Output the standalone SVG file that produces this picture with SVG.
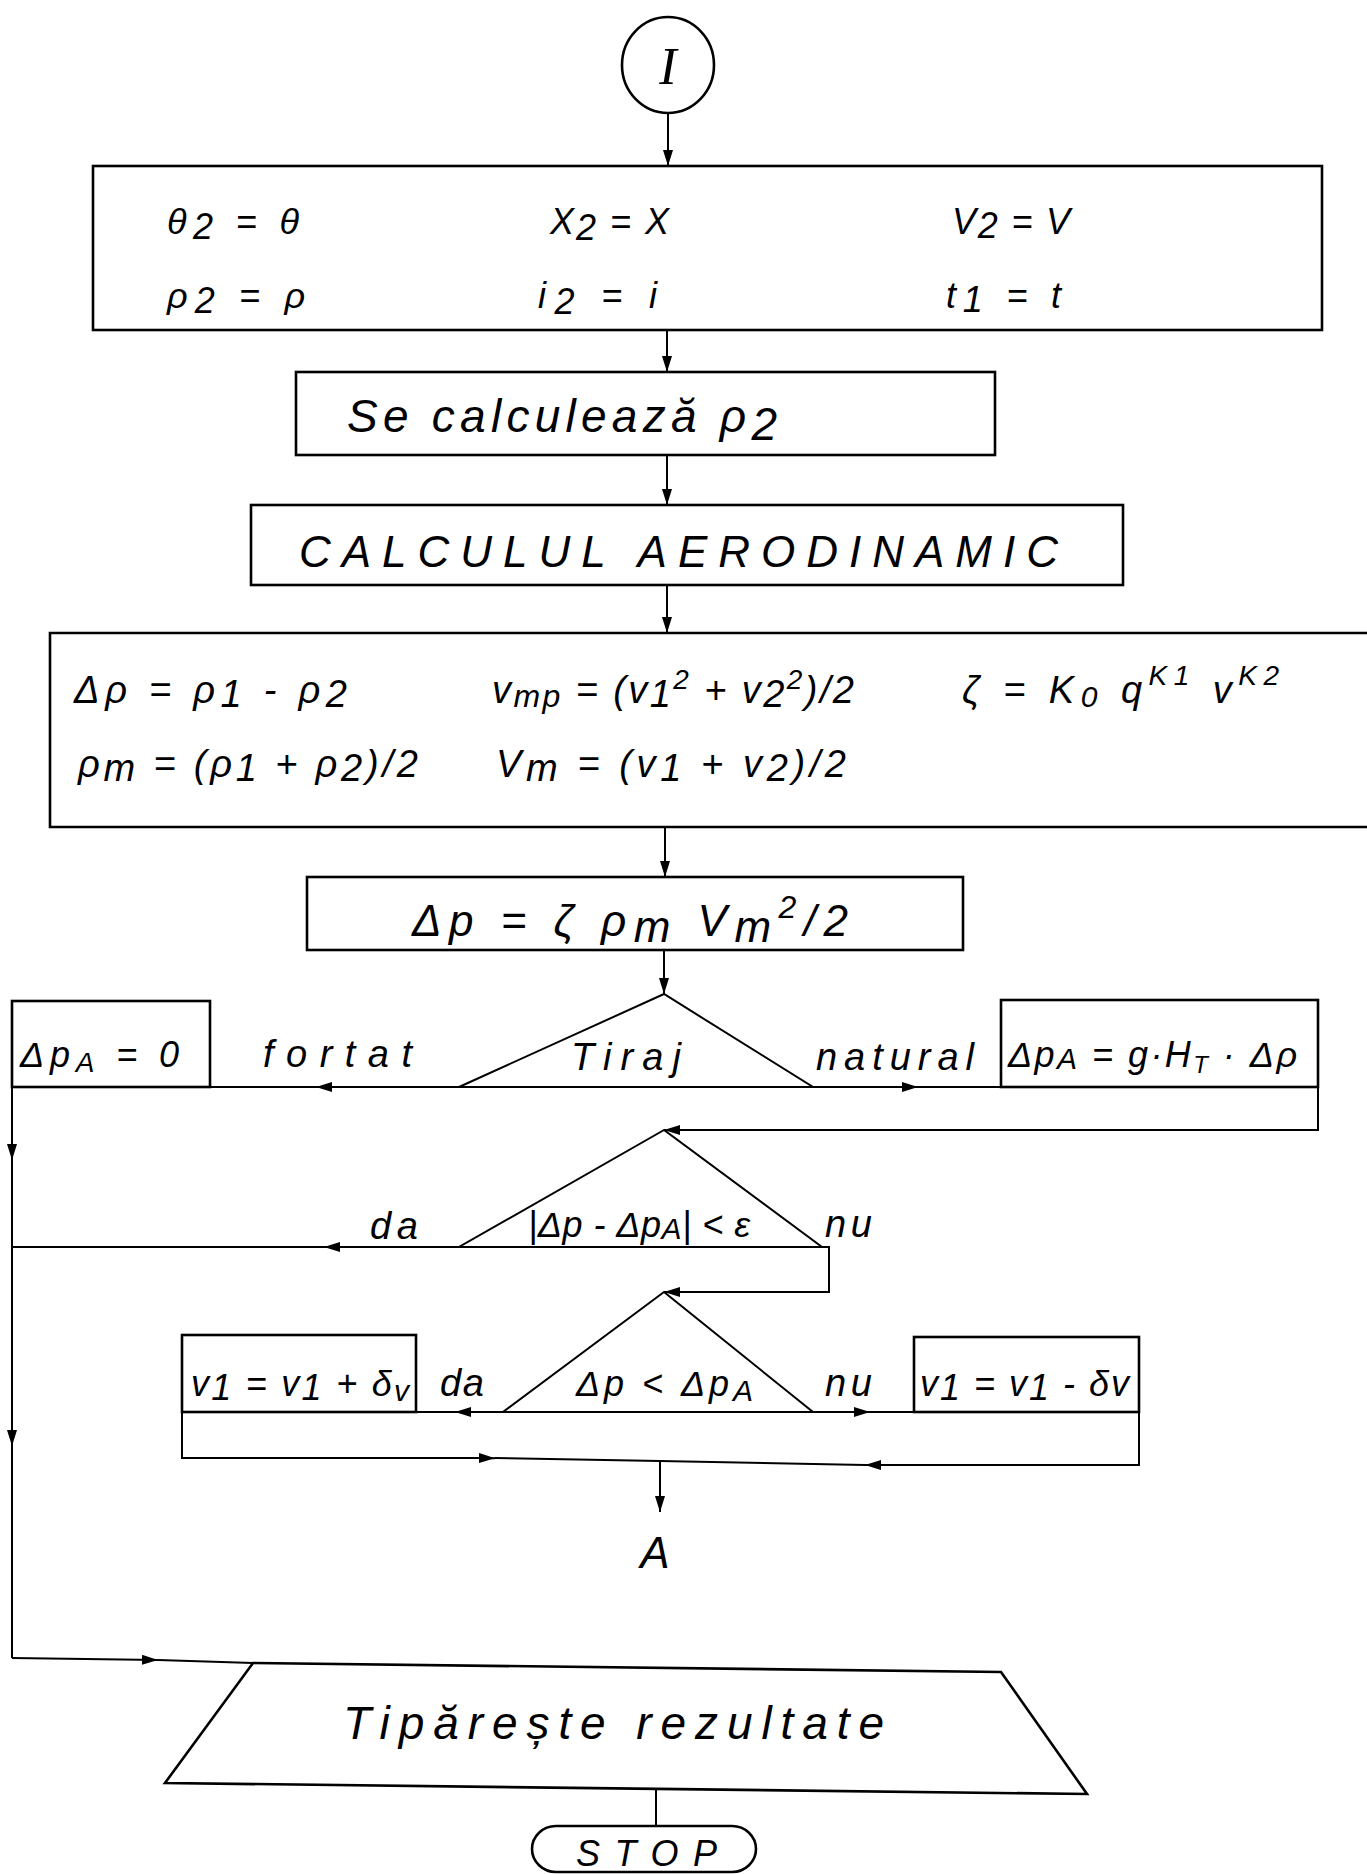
<svg xmlns="http://www.w3.org/2000/svg" width="1367" height="1874" viewBox="0 0 1367 1874">
<style>
.n{fill:none;stroke:#000;stroke-width:2.6}
.c{fill:none;stroke:#000;stroke-width:2}
text{font-family:"Liberation Sans",Arial,sans-serif;font-style:italic;fill:#000}
.t34{font-size:36px}
.t36{font-size:38px}
.t40{font-size:42px}
.lb{font-size:38px}
</style>
<defs>
<marker id="a" viewBox="0 0 16 10" refX="16" refY="5" markerWidth="16" markerHeight="10" markerUnits="userSpaceOnUse" orient="auto"><path d="M0,0 L16,5 L0,10 Z" fill="#000"/></marker>
</defs>
<rect width="1367" height="1874" fill="#fff"/>

<g id="start">
<ellipse class="n" cx="668" cy="65" rx="46" ry="48"/>
<text x="668" y="84" font-size="52" text-anchor="middle" style="font-family:'Liberation Serif',serif">I</text>
</g>

<g id="init">
<rect class="n" x="93" y="166" width="1229" height="164"/>
<text class="t34" x="167" y="234" textLength="132">θ<tspan dy="5">2</tspan><tspan dy="-5"> = θ</tspan></text>
<text class="t34" x="550" y="234" textLength="119">X<tspan dy="6">2</tspan><tspan dy="-6"> = X</tspan></text>
<text class="t34" x="952" y="234" textLength="118">V<tspan dy="4">2</tspan><tspan dy="-4"> = V</tspan></text>
<text class="t34" x="167" y="308" textLength="138">ρ<tspan dy="5">2</tspan><tspan dy="-5"> = ρ</tspan></text>
<text class="t34" x="538" y="308" textLength="119">i<tspan dy="6">2</tspan><tspan dy="-6"> = i</tspan></text>
<text class="t34" x="946" y="308" textLength="115">t<tspan dy="4">1</tspan><tspan dy="-4"> = t</tspan></text>
</g>

<g id="calc-rho">
<rect class="n" x="296" y="372" width="699" height="83"/>
<text x="347" y="432" font-size="46" textLength="430">Se calculează  ρ<tspan dy="8">2</tspan></text>
</g>

<g id="aero">
<rect class="n" x="251" y="505" width="872" height="80"/>
<text x="299" y="567" font-size="44" textLength="759">CALCULUL  AERODINAMIC</text>
</g>

<g id="formulas">
<path class="n" d="M1367,633 H50 V827 H1367"/>
<text class="t36" x="74" y="703" textLength="273">Δρ = ρ<tspan dy="4">1</tspan><tspan dy="-4"> - ρ</tspan><tspan dy="4">2</tspan></text>
<text class="t36" x="492" y="703" textLength="362">v<tspan dy="4" font-size="32">mp</tspan><tspan dy="-4"> = (v</tspan><tspan dy="4">1</tspan><tspan dy="-18" font-size="28">2</tspan><tspan dy="14"> + v</tspan><tspan dy="4">2</tspan><tspan dy="-18" font-size="28">2</tspan><tspan dy="14">)/2</tspan></text>
<text class="t36" x="962" y="703" textLength="317">ζ = K<tspan dy="4" font-size="30">0</tspan><tspan dy="-4"> q</tspan><tspan dy="-18" font-size="28">K1</tspan><tspan dy="18"> v</tspan><tspan dy="-18" font-size="28">K2</tspan></text>
<text class="t36" x="78" y="777" textLength="340">ρ<tspan dy="4">m</tspan><tspan dy="-4"> = (ρ</tspan><tspan dy="4">1</tspan><tspan dy="-4"> + ρ</tspan><tspan dy="4">2</tspan><tspan dy="-4">)/2</tspan></text>
<text class="t36" x="496" y="777" textLength="350">V<tspan dy="4">m</tspan><tspan dy="-4"> = (v</tspan><tspan dy="4">1</tspan><tspan dy="-4"> + v</tspan><tspan dy="4">2</tspan><tspan dy="-4">)/2</tspan></text>
</g>

<g id="dp">
<rect class="n" x="307" y="877" width="656" height="73"/>
<text x="412" y="936" font-size="44" textLength="436">Δp = ζ ρ<tspan dy="6">m</tspan><tspan dy="-6"> V</tspan><tspan dy="6">m</tspan><tspan dy="-24" font-size="32">2</tspan><tspan dy="18">/2</tspan></text>
</g>

<g id="tiraj">
<polygon class="c" points="664,994 459,1087 813,1087"/>
<text class="lb" x="571" y="1070" font-size="40" textLength="110">Tiraj</text>
</g>

<g id="dpa-zero">
<rect class="n" x="12" y="1001" width="198" height="86"/>
<text class="t34" x="20" y="1067" textLength="159">Δp<tspan dy="5" font-size="28">A</tspan><tspan dy="-5"> = 0</tspan></text>
</g>

<g id="dpa-nat">
<rect class="n" x="1001" y="1000" width="317" height="87"/>
<text class="t34" x="1008" y="1067" textLength="289">Δp<tspan dy="2" font-size="30">A</tspan><tspan dy="-2"> = g·H</tspan><tspan dy="6" font-size="24">T</tspan><tspan dy="-6"> · Δρ</tspan></text>
</g>

<g id="check-eps">
<polygon class="c" points="664,1130 459,1247 822,1247"/>
<text class="t34" x="528" y="1237" textLength="222">|Δp - Δp<tspan dy="2" font-size="30">A</tspan><tspan dy="-2">| &lt; ε</tspan></text>
</g>

<g id="check-sign">
<polygon class="c" points="664,1292 503,1412 813,1412"/>
<text class="t34" x="576" y="1396" textLength="177">Δp &lt; Δp<tspan dy="5" font-size="30">A</tspan></text>
</g>

<g id="v-plus">
<rect class="n" x="182" y="1335" width="234" height="77"/>
<text class="t34" x="191" y="1396" textLength="218">v<tspan dy="4">1</tspan><tspan dy="-4"> = v</tspan><tspan dy="4">1</tspan><tspan dy="-4"> + δ</tspan><tspan dy="5" font-size="30">v</tspan></text>
</g>

<g id="v-minus">
<rect class="n" x="914" y="1337" width="225" height="75"/>
<text class="t34" x="920" y="1396" textLength="209">v<tspan dy="4">1</tspan><tspan dy="-4"> = v</tspan><tspan dy="4">1</tspan><tspan dy="-4"> - δv</tspan></text>
</g>

<g id="connector-A">
<text x="655" y="1568" font-size="44" text-anchor="middle">A</text>
</g>

<g id="print">
<polygon class="n" points="253,1663 1001,1672 1087,1794 165,1783"/>
<text x="343" y="1739" font-size="46" textLength="541">Tipărește  rezultate</text>
</g>

<g id="stop">
<rect class="n" x="532" y="1826" width="224" height="46" rx="24" ry="23"/>
<text x="576" y="1866" font-size="36" textLength="141">STOP</text>
</g>

<g id="connectors">
<line class="c" x1="668" y1="113" x2="668" y2="166" marker-end="url(#a)"/>
<line class="c" x1="667" y1="330" x2="667" y2="372" marker-end="url(#a)"/>
<line class="c" x1="667" y1="455" x2="667" y2="505" marker-end="url(#a)"/>
<line class="c" x1="667" y1="585" x2="667" y2="633" marker-end="url(#a)"/>
<line class="c" x1="665" y1="827" x2="665" y2="877" marker-end="url(#a)"/>
<line class="c" x1="664" y1="950" x2="664" y2="994" marker-end="url(#a)"/>
<line class="c" x1="459" y1="1087" x2="316" y2="1087" marker-end="url(#a)"/>
<line class="c" x1="316" y1="1087" x2="12" y2="1087"/>
<line class="c" x1="813" y1="1087" x2="918" y2="1087" marker-end="url(#a)"/>
<path class="c" d="M918,1087 H1318 V1130 H978"/>
<line class="c" x1="978" y1="1130" x2="664" y2="1130" marker-end="url(#a)"/>
<line class="c" x1="12" y1="1087" x2="12" y2="1160" marker-end="url(#a)"/>
<line class="c" x1="12" y1="1160" x2="12" y2="1446" marker-end="url(#a)"/>
<line class="c" x1="12" y1="1446" x2="12" y2="1658"/>
<line class="c" x1="12" y1="1658" x2="158" y2="1660" marker-end="url(#a)"/>
<line class="c" x1="158" y1="1660" x2="253" y2="1663"/>
<line class="c" x1="459" y1="1247" x2="324" y2="1247" marker-end="url(#a)"/>
<line class="c" x1="324" y1="1247" x2="12" y2="1247"/>
<path class="c" d="M822,1247 H829 V1292 H765"/>
<line class="c" x1="765" y1="1292" x2="664" y2="1292" marker-end="url(#a)"/>
<line class="c" x1="503" y1="1412" x2="455" y2="1412" marker-end="url(#a)"/>
<path class="c" d="M455,1412 H182 V1458 H482"/>
<line class="c" x1="813" y1="1412" x2="870" y2="1412" marker-end="url(#a)"/>
<path class="c" d="M870,1412 H1139 V1465 H878"/>
<line class="c" x1="482" y1="1458" x2="495" y2="1458.2" marker-end="url(#a)"/>
<line class="c" x1="495" y1="1458" x2="660" y2="1461"/>
<line class="c" x1="878" y1="1465" x2="865" y2="1464.9" marker-end="url(#a)"/>
<line class="c" x1="865" y1="1465" x2="660" y2="1461"/>
<line class="c" x1="660" y1="1461" x2="660" y2="1512" marker-end="url(#a)"/>
<line class="c" x1="656" y1="1789" x2="656" y2="1826"/>
<text class="lb" x="263" y="1067" textLength="149">fortat</text>
<text class="lb" x="816" y="1070" textLength="158">natural</text>
<text class="lb" x="370" y="1239" textLength="48">da</text>
<text class="lb" x="825" y="1237" textLength="47">nu</text>
<text class="lb" x="440" y="1396" textLength="44">da</text>
<text class="lb" x="825" y="1396" textLength="47">nu</text>
</g>
</svg>
